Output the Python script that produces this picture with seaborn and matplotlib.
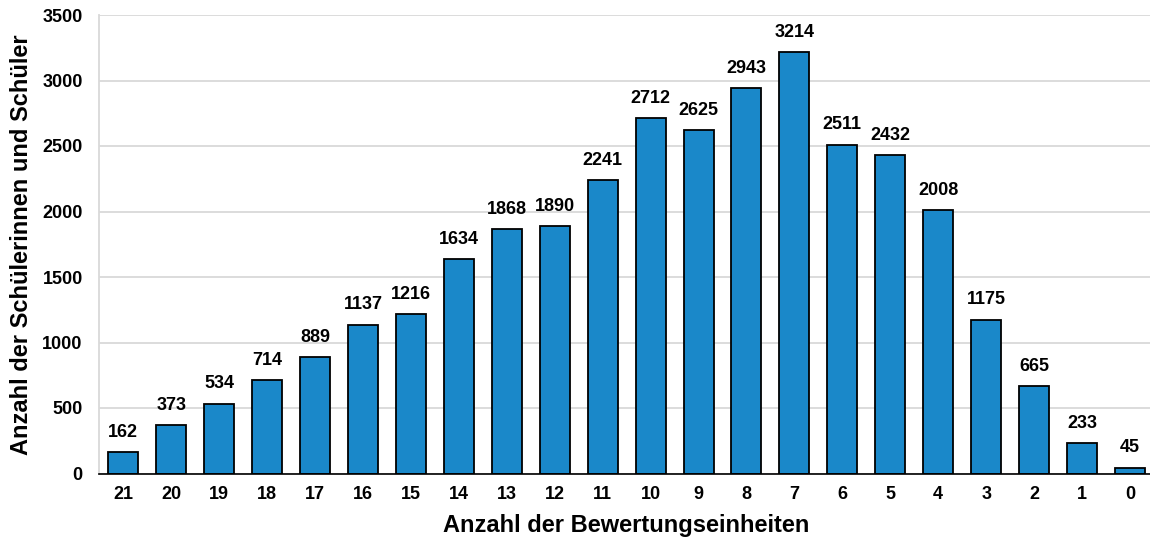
import matplotlib
matplotlib.use("Agg")
import matplotlib.pyplot as plt
import seaborn as sns
import pandas as pd

categories = ["21", "20", "19", "18", "17", "16", "15", "14", "13", "12", "11",
              "10", "9", "8", "7", "6", "5", "4", "3", "2", "1", "0"]
values = [162, 373, 534, 714, 889, 1137, 1216, 1634, 1868, 1890, 2241,
          2712, 2625, 2943, 3214, 2511, 2432, 2008, 1175, 665, 233, 45]
yticks = [0, 500, 1000, 1500, 2000, 2500, 3000, 3500]

sns.set_theme(style="white")
plt.rcParams['font.family'] = ['Liberation Sans', 'DejaVu Sans']
plt.rcParams['text.color'] = 'black'
plt.rcParams['axes.labelcolor'] = 'black'
plt.rcParams['xtick.color'] = 'black'
plt.rcParams['ytick.color'] = 'black'

df = pd.DataFrame({"cat": categories, "val": values})

fig = plt.figure(figsize=(11.5, 5.45), dpi=100)
ax = fig.add_axes([99.3 / 1150, 1 - 473.5 / 545, 22 * 47.94 / 1150, (473.5 - 15) / 545])

sns.barplot(data=df, x="cat", y="val", order=categories, color="#1A88C9",
            saturation=1, width=0.626, edgecolor="black", linewidth=1.3, ax=ax, zorder=3)

ax.set_ylim(0, 3500)
ax.set_xlim(-0.5, len(categories) - 0.5)
ax.set_yticks(yticks)
ax.set_yticklabels([str(t) for t in yticks], fontsize=13, fontweight="bold")
ax.set_xticks(range(len(categories)))
ax.set_xticklabels(categories, fontsize=13, fontweight="bold")
ax.tick_params(axis="x", length=0, pad=9)
ax.tick_params(axis="y", length=0, pad=12)
ax.yaxis.grid(True, color="#D9D9D9", linewidth=1.3, zorder=0)
ax.set_axisbelow(True)

for s in ["top", "right"]:
    ax.spines[s].set_visible(False)
ax.spines["left"].set_color("#D9D9D9")
ax.spines["left"].set_linewidth(1.3)
ax.spines["bottom"].set_color("black")
ax.spines["bottom"].set_linewidth(1.2)
ax.spines["bottom"].set_zorder(4)

for i, v in enumerate(values):
    ax.annotate(str(v), (i, v), xytext=(0, 8), textcoords="offset points",
                ha="center", va="bottom", fontsize=13, fontweight="bold")

ax.set_xlabel("Anzahl der Bewertungseinheiten", fontsize=17, fontweight="bold", labelpad=8)
ax.set_ylabel("Anzahl der Schülerinnen und Schüler", fontsize=17, fontweight="bold", labelpad=7)

fig.savefig("out.png", dpi=100)
